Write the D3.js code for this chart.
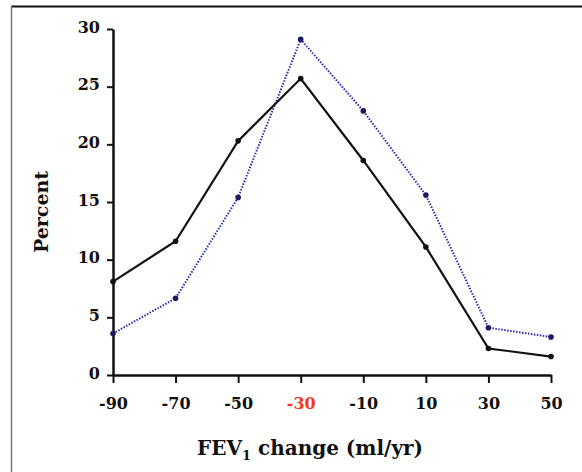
<!DOCTYPE html>
<html>
<head>
<meta charset="utf-8">
<script src="https://cdn.jsdelivr.net/npm/d3@7"></script>
<style>
  html, body { margin: 0; padding: 0; background: #fff; }
  svg { display: block; }
</style>
</head>
<body>
<div id="chart"></div>
<script>
// data
const xValues = [-90, -70, -50, -30, -10, 10, 30, 50];
const solidSeries = [8.1, 11.6, 20.3, 25.7, 18.6, 11.1, 2.3, 1.6];
const dottedSeries = [3.6, 6.65, 15.4, 29.1, 22.9, 15.6, 4.1, 3.3];
const yTicks = [0, 5, 10, 15, 20, 25, 30];
const highlightTick = -30;

const width = 582, height = 472;
const margin = { left: 113, right: 31, top: 29, bottom: 97 };
const FONT = "'DejaVu Serif', 'Liberation Serif', serif";

const svg = d3.select("#chart").append("svg")
  .attr("width", width)
  .attr("height", height);

// outer frame (top + left only)
svg.append("line").attr("x1", 11).attr("x2", width).attr("y1", 6.5).attr("y2", 6.5)
  .attr("stroke", "#111").attr("stroke-width", 2);
svg.append("line").attr("x1", 11.5).attr("x2", 11.5).attr("y1", 6).attr("y2", height)
  .attr("stroke", "#777").attr("stroke-width", 1.5);

const x = d3.scaleLinear().domain([-90, 50]).range([margin.left, width - margin.right]);
const y = d3.scaleLinear().domain([0, 30]).range([height - margin.bottom, margin.top]);

// axes (plain hyphen for negatives, as in the original)
const fmt = d => String(d);
const xAxis = svg.append("g")
  .attr("transform", `translate(0,${y(0)})`)
  .call(d3.axisBottom(x).tickValues(xValues).tickFormat(fmt).tickSize(8).tickSizeOuter(0).tickPadding(15));
const yAxis = svg.append("g")
  .attr("transform", `translate(${x(-90)},0)`)
  .call(d3.axisLeft(y).tickValues(yTicks).tickFormat(fmt).tickSize(6).tickSizeOuter(0).tickPadding(7));

[xAxis, yAxis].forEach(g => {
  g.select(".domain").attr("stroke", "#111").attr("stroke-width", 2.5);
  g.selectAll(".tick line").attr("stroke", "#111").attr("stroke-width", 2);
  g.selectAll(".tick text")
    .attr("font-family", FONT)
    .attr("font-weight", "bold")
    .attr("font-size", "16px")
    .attr("fill", "#111");
});
yAxis.selectAll(".tick text").attr("dy", "0.2em");
xAxis.selectAll(".tick text")
  .attr("fill", d => d === highlightTick ? "#f03c18" : "#111");

// lines
const line = d3.line().x((d, i) => x(xValues[i])).y(d => y(d));

svg.append("path").datum(dottedSeries)
  .attr("d", line)
  .attr("fill", "none")
  .attr("stroke", "#2b2bb0")
  .attr("stroke-width", 2)
  .attr("stroke-dasharray", "1.5,1.5");
svg.selectAll("circle.dot").data(dottedSeries).enter().append("circle")
  .attr("class", "dot")
  .attr("cx", (d, i) => x(xValues[i]))
  .attr("cy", d => y(d))
  .attr("r", 2.8)
  .attr("fill", "#1a1a60");

svg.append("path").datum(solidSeries)
  .attr("d", line)
  .attr("fill", "none")
  .attr("stroke", "#111")
  .attr("stroke-width", 2.2);
svg.selectAll("circle.solid").data(solidSeries).enter().append("circle")
  .attr("class", "solid")
  .attr("cx", (d, i) => x(xValues[i]))
  .attr("cy", d => y(d))
  .attr("r", 2.8)
  .attr("fill", "#111");

// axis titles
svg.append("text")
  .attr("transform", `translate(48,212) rotate(-90)`)
  .attr("text-anchor", "middle")
  .attr("font-family", FONT)
  .attr("font-weight", "bold")
  .attr("font-size", "19px")
  .attr("fill", "#111")
  .text("Percent");

const xt = svg.append("text")
  .attr("x", 310).attr("y", 455)
  .attr("text-anchor", "middle")
  .attr("font-family", FONT)
  .attr("font-weight", "bold")
  .attr("font-size", "20px")
  .attr("fill", "#111");
xt.append("tspan").text("FEV");
xt.append("tspan").attr("dy", 5).attr("font-size", "13px").text("1");
xt.append("tspan").attr("dy", -5).text(" change (ml/yr)");
</script>
</body>
</html>
